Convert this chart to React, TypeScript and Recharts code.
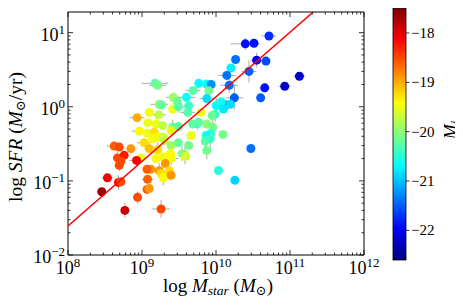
import React from 'react';
import { ScatterChart, Scatter, XAxis, YAxis, ErrorBar } from 'recharts';

// ---- data ----
const stellarMass = [
  2.49e10, 3.26e10, 5.2e10, 1.84e10, 1.59e10, 3.54e10, 4.73e10, 2.79e10, 1.4e10, 1.51e10,
  4.55e10, 8.49e10, 1.34e11, 4.01e10, 1.77e10, 1.36e10, 1.56e10, 1.01e10, 1.18e10, 1.26e10,
  2.96e10, 1.08e10, 1.8e10, 9.75e9, 8.87e9, 7.5e9, 9.05e9, 8.42e9, 1.24e10, 7.36e9,
  5.85e9, 7.43e9, 8.61e9, 7.99e9, 7.5e9, 6.3e9, 7.14e9, 8.34e9, 7.5e9, 1.5e9,
  1.63e9, 4.91e9, 3.98e9, 2.65e9, 2.98e9, 1.71e9, 1.84e9, 2.6e9, 3.1e9, 4.15e9,
  1.25e9, 1.68e9, 8.6e8, 1.2e9, 1.55e9, 1.9e9, 2.6e9, 3.13e9, 5.61e9, 9.18e8,
  1.18e9, 1.47e9, 2.47e9, 4.61e9, 4.28e9, 4.85e9, 5.79e9, 1.39e9, 1.66e9, 1.94e9,
  1.07e9, 1.25e9, 1.63e9, 1.94e9, 2.0e9, 2.47e9, 1.55e9, 2.49e9, 3.48e9, 3.82e9,
  2.07e9, 1.32e9, 1.71e9, 1.81e9, 1.94e9, 2.34e9, 9.68e8, 4.2e8, 4.92e8, 7.08e8,
  4.66e8, 5.74e8, 4.92e8, 5.18e8, 8.44e8, 1.17e9, 1.19e9, 1.17e9, 1.25e9, 1.81e9,
  8.7e8, 5.87e8, 3.41e8, 4.81e8, 5.18e8, 2.86e8, 4.28e9, 3.1e9, 2.42e9, 3.86e9,
  2.47e9,
];
const starFormationRate = [
  7.06, 7.19, 9.03, 4.35, 3.33, 4.26, 4.13, 3.0, 2.65, 1.95,
  1.8, 1.89, 2.58, 1.32, 1.32, 1.06, 1.08, 1.04, 1.17, 0.93,
  0.274, 0.138, 0.102, 0.79, 0.76, 0.586, 0.53, 0.435, 0.422, 0.409,
  2.07, 2.03, 2.0, 1.64, 1.29, 0.84, 0.344, 0.37, 0.258, 2.07,
  1.95, 1.66, 1.34, 1.34, 1.18, 1.08, 1.06, 0.93, 1.0, 0.84,
  0.84, 0.78, 0.713, 0.61, 0.586, 0.557, 0.535, 0.54, 0.592, 0.469,
  0.44, 0.454, 0.477, 0.409, 1.03, 0.586, 0.618, 0.37, 0.389, 0.389,
  0.327, 0.272, 0.263, 0.21, 0.351, 0.3, 0.2, 0.2, 0.233, 0.221,
  0.171, 0.143, 0.137, 0.126, 0.11, 0.137, 0.204, 0.295, 0.286, 0.272,
  0.204, 0.221, 0.162, 0.184, 0.189, 0.143, 0.105, 0.0767, 0.079, 0.0418,
  0.06, 0.04, 0.11, 0.0953, 0.0973, 0.0714, 0.3, 0.327, 0.233, 0.214,
  0.119,
];
const absMagI = [
  -21.9, -21.9, -21.75, -21.4, -20.75, -22.0, -21.6, -21.5, -21.4, -21.4,
  -21.9, -22.25, -22.2, -21.5, -21.5, -21.4, -20.85, -20.7, -20.6, -20.8,
  -21.4, -20.5, -20.9, -20.4, -20.2, -20.0, -20.1, -20.5, -20.1, -20.6,
  -20.7, -20.65, -21.25, -20.1, -20.85, -19.5, -20.25, -20.4, -20.15, -20.25,
  -20.1, -20.25, -20.6, -19.9, -20.15, -20.0, -20.2, -19.5, -20.25, -20.25,
  -19.5, -19.75, -19.0, -19.5, -19.5, -19.75, -20.15, -20.25, -20.5, -19.4,
  -19.5, -19.25, -19.5, -19.5, -20.4, -20.25, -20.25, -19.4, -19.5, -19.6,
  -19.25, -19.1, -19.25, -19.5, -19.75, -19.9, -19.4, -19.5, -20.0, -20.15,
  -18.9, -18.9, -18.9, -19.25, -19.4, -19.25, -19.5, -18.6, -18.5, -18.9,
  -18.5, -18.25, -18.5, -18.5, -18.1, -18.6, -18.6, -18.6, -18.9, -18.5,
  -18.5, -17.9, -18.1, -18.1, -18.5, -17.65, -20.1, -20.15, -19.4, -19.6,
  -18.9,
];
// error half-widths in dex (0 = no error bar)
const massErrDex = [
  0.2, 0, 0.1, 0, 0, 0.08, 0, 0.1, 0.12, 0.12,
  0, 0.08, 0.08, 0, 0.12, 0, 0, 0, 0, 0,
  0, 0, 0, 0, 0, 0.08, 0, 0, 0, 0,
  0, 0, 0, 0, 0.1, 0, 0, 0, 0, 0.18,
  0.12, 0.1, 0.12, 0.1, 0, 0.12, 0, 0, 0.1, 0.1,
  0, 0.1, 0.1, 0, 0.08, 0, 0, 0, 0.08, 0.1,
  0, 0, 0, 0, 0, 0, 0, 0, 0, 0,
  0.1, 0, 0, 0, 0, 0, 0, 0.1, 0, 0,
  0, 0, 0, 0, 0, 0, 0.08, 0.1, 0, 0,
  0, 0, 0, 0, 0.1, 0, 0.08, 0, 0, 0.12,
  0, 0.05, 0.08, 0.06, 0, 0, 0, 0, 0, 0,
  0,
];
const sfrErrDex = [
  0.08, 0, 0, 0, 0, 0.1, 0, 0.15, 0.06, 0.1,
  0, 0, 0, 0, 0.16, 0, 0, 0.1, 0, 0,
  0, 0, 0, 0.1, 0, 0, 0.15, 0.12, 0, 0,
  0.06, 0, 0, 0, 0, 0, 0.1, 0.12, 0.12, 0,
  0, 0, 0.06, 0, 0, 0, 0, 0, 0.08, 0,
  0, 0, 0, 0, 0, 0, 0.1, 0, 0.08, 0,
  0, 0.08, 0, 0, 0, 0, 0, 0, 0, 0,
  0, 0, 0.1, 0, 0, 0, 0, 0.08, 0.1, 0.12,
  0, 0, 0.1, 0, 0.1, 0, 0, 0, 0, 0,
  0.08, 0, 0.08, 0, 0.06, 0, 0, 0, 0, 0.12,
  0.08, 0.1, 0, 0.1, 0, 0, 0, 0, 0, 0,
  0,
];

// fitted relation (end points)
const fitMass = [1e8, 2.06e11];
const fitSfr = [0.0247, 19];

// axes
const xMajorTicks = [1e8, 1e9, 1e10, 1e11, 1e12];
const xMajorLabels = ['8', '9', '10', '11', '12'];
const yMajorTicks = [0.01, 0.1, 1, 10];
const yMajorLabels = ['\u22122', '\u22121', '0', '1'];
const xDomain = [1e8, 1e12];
const yDomain = [0.01, 19];

// colour bar
const cbTicks = [-18, -19, -20, -21, -22];
const cbTickLabels = ['\u221218', '\u221219', '\u221220', '\u221221', '\u221222'];
const cbRange = [-22.6, -17.5];

// ---- helpers ----
const FONT = '"Liberation Serif", "DejaVu Serif", serif';
const clamp = (v: number) => Math.max(0, Math.min(1, v));
function jet(t: number) {
  const r = clamp(1.5 - Math.abs(4 * t - 3));
  const g = clamp(1.5 - Math.abs(4 * t - 2));
  const b = clamp(1.5 - Math.abs(4 * t - 1));
  return `rgb(${Math.round(r * 255)},${Math.round(g * 255)},${Math.round(b * 255)})`;
}
const magToT = (m: number) => (m - cbRange[0]) / (cbRange[1] - cbRange[0]);

const minorOf = (majors: number[], max: number) => {
  const out: number[] = [];
  majors.forEach((m) => {
    for (let k = 2; k <= 9; k++) if (m * k <= max) out.push(m * k);
  });
  return out;
};
const xTicks = [...xMajorTicks, ...minorOf(xMajorTicks, xDomain[1])].sort((a, b) => a - b);
const yTicks = [...yMajorTicks, ...minorOf(yMajorTicks, yDomain[1])].sort((a, b) => a - b);

const majorIndex = (v: number, majors: number[]) =>
  majors.findIndex((m) => Math.abs(Math.log10(v) - Math.log10(m)) < 1e-6);

const points = stellarMass.map((m, i) => {
  const s = starFormationRate[i];
  const ex = massErrDex[i];
  const ey = sfrErrDex[i];
  return {
    mass: m,
    sfr: s,
    mag: absMagI[i],
    fill: jet(magToT(absMagI[i])),
    xErr: [m - m * Math.pow(10, -ex), m * Math.pow(10, ex) - m],
    yErr: [s - s * Math.pow(10, -ey), s * Math.pow(10, ey) - s],
  };
});
const fitData = fitMass.map((m, i) => ({ mass: m, sfr: fitSfr[i] }));

const MAJ = 5;
const MIN = 2.5;
const TICK_FS = 18;
const SUP_FS = 13;

const BottomTick = (props: any) => {
  const { x, y, payload } = props;
  const idx = majorIndex(payload.value, xMajorTicks);
  const major = idx >= 0;
  return (
    <g>
      <line x1={x} x2={x} y1={y} y2={y - (major ? MAJ : MIN)} stroke="#000" strokeWidth={0.8} />
      {major && (
        <text x={x} y={y + 19} textAnchor="middle" fontFamily={FONT} fontSize={TICK_FS} fill="#000">
          <tspan>10</tspan>
          <tspan dy={-7} fontSize={SUP_FS}>{xMajorLabels[idx]}</tspan>
        </text>
      )}
    </g>
  );
};
const TopTick = (props: any) => {
  const { x, y, payload } = props;
  const major = majorIndex(payload.value, xMajorTicks) >= 0;
  return <line x1={x} x2={x} y1={y} y2={y + (major ? MAJ : MIN)} stroke="#000" strokeWidth={0.8} />;
};
const LeftTick = (props: any) => {
  const { x, y, payload } = props;
  const idx = majorIndex(payload.value, yMajorTicks);
  const major = idx >= 0;
  return (
    <g>
      <line x1={x} x2={x + (major ? MAJ : MIN)} y1={y} y2={y} stroke="#000" strokeWidth={0.8} />
      {major && (
        <text x={x - 3} y={y + 8} textAnchor="end" fontFamily={FONT} fontSize={TICK_FS} fill="#000">
          <tspan>10</tspan>
          <tspan dy={-7} fontSize={SUP_FS}>{yMajorLabels[idx]}</tspan>
        </text>
      )}
    </g>
  );
};
const RightTick = (props: any) => {
  const { x, y, payload } = props;
  const major = majorIndex(payload.value, yMajorTicks) >= 0;
  return <line x1={x} x2={x - (major ? MAJ : MIN)} y1={y} y2={y} stroke="#000" strokeWidth={0.8} />;
};

const Dot = (props: any) => {
  const { cx, cy, payload } = props;
  if (cx == null || cy == null) return <g />;
  return <circle cx={cx} cy={cy} r={4.5} fill={payload.fill} />;
};
const Empty = () => <g />;

// colour bar geometry
const CB = { x: 393, y: 8.3, w: 13, h: 251.7 };
const cbY = (v: number) => CB.y + ((cbRange[1] - v) / (cbRange[1] - cbRange[0])) * CB.h;
const gradStops = Array.from({ length: 41 }, (_, i) => i / 40);

export default function App() {
  return (
    <div style={{ position: 'relative', width: 463, height: 306, margin: '-8px 0 0 -8px', background: '#fff' }}>
      <ScatterChart width={463} height={306} margin={{ top: 7, right: 94, bottom: 21, left: 28 }}>
        <XAxis
          xAxisId="b"
          dataKey="mass"
          type="number"
          scale="log"
          domain={xDomain}
          allowDataOverflow
          ticks={xTicks}
          interval={0}
          tickSize={0}
          tickMargin={0}
          tickLine={false}
          height={30}
          axisLine={{ stroke: '#000', strokeWidth: 1 }}
          tick={(p: any) => <BottomTick {...p} />}
        />
        <XAxis
          xAxisId="t"
          orientation="top"
          dataKey="mass"
          type="number"
          scale="log"
          domain={xDomain}
          allowDataOverflow
          ticks={xTicks}
          interval={0}
          tickSize={0}
          tickMargin={0}
          tickLine={false}
          height={5}
          axisLine={{ stroke: '#000', strokeWidth: 1 }}
          tick={(p: any) => <TopTick {...p} />}
        />
        <YAxis
          yAxisId="l"
          dataKey="sfr"
          type="number"
          scale="log"
          domain={yDomain}
          allowDataOverflow
          ticks={yTicks}
          interval={0}
          tickSize={0}
          tickMargin={0}
          tickLine={false}
          width={40}
          axisLine={{ stroke: '#000', strokeWidth: 1 }}
          tick={(p: any) => <LeftTick {...p} />}
        />
        <YAxis
          yAxisId="r"
          orientation="right"
          dataKey="sfr"
          type="number"
          scale="log"
          domain={yDomain}
          allowDataOverflow
          ticks={yTicks}
          interval={0}
          tickSize={0}
          tickMargin={0}
          tickLine={false}
          width={5}
          axisLine={{ stroke: '#000', strokeWidth: 1 }}
          tick={(p: any) => <RightTick {...p} />}
        />
        <Scatter xAxisId="b" yAxisId="l" data={points} dataKey="sfr" shape={Empty} isAnimationActive={false}>
          <ErrorBar dataKey="xErr" direction="x" width={0} stroke="#aaaaaa" strokeWidth={1} isAnimationActive={false} />
          <ErrorBar dataKey="yErr" direction="y" width={0} stroke="#aaaaaa" strokeWidth={1} isAnimationActive={false} />
        </Scatter>
        <Scatter xAxisId="b" yAxisId="l" data={points} dataKey="sfr" shape={Dot} isAnimationActive={false} />
        <Scatter
          xAxisId="b"
          yAxisId="l"
          data={fitData}
          dataKey="sfr"
          shape={Empty}
          line={{ stroke: '#ff0000', strokeWidth: 1.5 }}
          isAnimationActive={false}
        />
      </ScatterChart>
      <svg width={463} height={306} style={{ position: 'absolute', left: 0, top: 0, pointerEvents: 'none' }}>
        <defs>
          <linearGradient id="jetgrad" x1="0" y1="1" x2="0" y2="0">
            {gradStops.map((s) => (
              <stop key={s} offset={s} stopColor={jet(s)} />
            ))}
          </linearGradient>
        </defs>
        <rect x={CB.x} y={CB.y} width={CB.w} height={CB.h} fill="url(#jetgrad)" stroke="#000" strokeWidth={0.8} />
        {cbTicks.map((v, i) => (
          <g key={v}>
            <line x1={CB.x + CB.w} x2={CB.x + CB.w + 3.5} y1={cbY(v)} y2={cbY(v)} stroke="#000" strokeWidth={0.8} />
            <text x={CB.x + CB.w + 5} y={cbY(v) + 5} fontFamily={FONT} fontSize={15} fill="#000">
              {cbTickLabels[i]}
            </text>
          </g>
        ))}
        <text
          transform="translate(457,130) rotate(-90)"
          textAnchor="middle"
          fontFamily={FONT}
          fontSize={18}
          fill="#000"
        >
          <tspan fontStyle="italic">M</tspan>
          <tspan fontStyle="italic" fontSize={13} dy={2}>i</tspan>
        </text>
        <text x={218} y={292} textAnchor="middle" fontFamily={FONT} fontSize={19} fill="#000">
          <tspan>log </tspan>
          <tspan fontStyle="italic">M</tspan>
          <tspan fontStyle="italic" fontSize={13.5} dy={3}>star</tspan>
          <tspan dy={-3}> (</tspan>
          <tspan fontStyle="italic">M</tspan>
          <tspan fontSize={13} dy={3}>{'\u2299'}</tspan>
          <tspan dy={-3}>)</tspan>
        </text>
        <text
          transform="translate(22,137) rotate(-90)"
          textAnchor="middle"
          fontFamily={FONT}
          fontSize={19.5}
          fill="#000"
        >
          <tspan>log </tspan>
          <tspan fontStyle="italic">SFR</tspan>
          <tspan> (</tspan>
          <tspan fontStyle="italic">M</tspan>
          <tspan fontSize={13} dy={3}>{'\u2299'}</tspan>
          <tspan dy={-3}>/yr)</tspan>
        </text>
      </svg>
    </div>
  );
}
